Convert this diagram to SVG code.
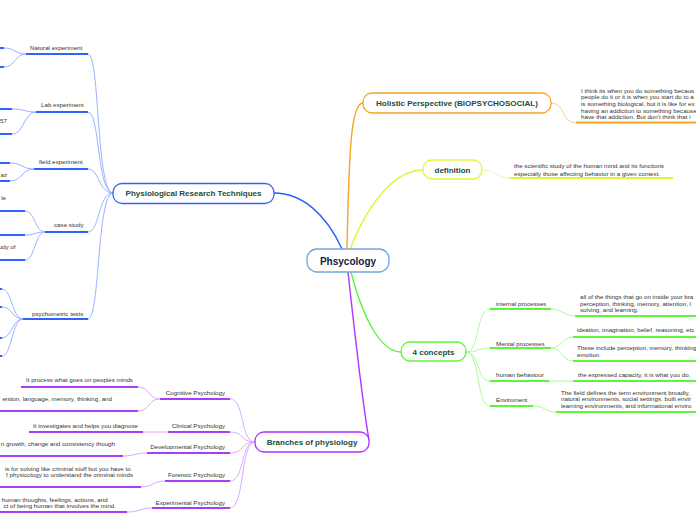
<svg xmlns="http://www.w3.org/2000/svg" width="696" height="520" viewBox="0 0 696 520">
<style>
.bg{fill:#fff}
.node{fill:#fff;stroke-width:1.3}
.lbl{font-family:"Liberation Sans",Arial,sans-serif;font-weight:bold;font-size:8px;fill:#1d4a3c}
.t{font-family:"Liberation Sans",Arial,sans-serif;font-size:6.2px;fill:#333}
.e{text-anchor:end}
.c{fill:none;stroke-width:0.9}
.u{fill:none;stroke-width:2}
.m{fill:none;stroke-width:1.4}
.bl .c{stroke:#8eaaff}.bl .u{stroke:#2f62ff}
.or .c{stroke:#fcc877}.or .u{stroke:#f8a31c}
.ye .c{stroke:#ecf890}.ye .u{stroke:#e3f53b}
.gr .c{stroke:#a4f98f}.gr .u{stroke:#5cf53a}
.pu .c{stroke:#d8a0ff}.pu .u{stroke:#a93cf7}
</style>
<rect class="bg" width="696" height="520"/>
<g id="connectors">
  <path class="m" d="M342,249 C326,214 302,193 274,193" stroke="#2a5cff"/>
  <path class="m" d="M347,249 C349,150 351,103 363,103" stroke="#f7a325"/>
  <path class="m" d="M350,249 C372,195 398,170 423,170" stroke="#dcf53c"/>
  <path class="m" d="M351,272 C364,322 382,352 401,352" stroke="#5df53c"/>
  <path class="m" d="M348,272 C356,345 362,400 369,440" stroke="#aa33ff"/>
  <g class="bl">
    <path class="c" d="M113,193 C96,193 100,54 88,54"/>
    <path class="c" d="M113,193 C97,193 100,112 88,112"/>
    <path class="c" d="M113,193 C98,193 100,169 88,169"/>
    <path class="c" d="M113,193 C98,193 100,232 88,232"/>
    <path class="c" d="M113,193 C97,193 100,319 88,319"/>
    <path class="c" d="M26,54 C15,54 15,48 4,48"/>
    <path class="c" d="M26,54 C15,54 15,67 4,67"/>
    <path class="c" d="M36,112 C24,112 24,109 12,109"/>
    <path class="c" d="M36,112 C24,112 24,134 12,134"/>
    <path class="c" d="M34,169 C22,169 22,163 10,163"/>
    <path class="c" d="M34,169 C22,169 22,181 10,181"/>
    <path class="c" d="M45,232 C35,232 35,211 25,211"/>
    <path class="c" d="M45,232 C35,232 35,235 25,235"/>
    <path class="c" d="M45,232 C35,232 35,260 25,260"/>
    <path class="c" d="M23,319 C12,319 12,289 2,289"/>
    <path class="c" d="M23,319 C12,319 12,307 2,307"/>
    <path class="c" d="M23,319 C12,319 12,338 2,338"/>
    <path class="c" d="M23,319 C12,319 12,356 2,356"/>
  </g>
  <g class="or"><path class="c" d="M551,103 C565,103 562,123 576,123"/></g>
  <g class="ye"><path class="c" d="M482,170 C496,170 496,178 510,178"/></g>
  <g class="gr">
    <path class="c" d="M466,352 C480,352 476,309 490,309"/>
    <path class="c" d="M466,352 C480,352 476,348 490,348"/>
    <path class="c" d="M466,352 C480,352 476,381 490,381"/>
    <path class="c" d="M466,352 C480,352 476,406 490,406"/>
    <path class="c" d="M551,309 C563,309 563,316 575,316"/>
    <path class="c" d="M551,348 C562,348 562,337 573,337"/>
    <path class="c" d="M551,348 C562,348 562,361 573,361"/>
    <path class="c" d="M549,381 L573,381"/>
    <path class="c" d="M533,406 C545,406 545,412 556,412"/>
  </g>
  <g class="pu">
    <path class="c" d="M255,442 C240,442 245,399 230,399"/>
    <path class="c" d="M255,442 C240,442 245,432 230,432"/>
    <path class="c" d="M255,442 C240,442 245,453 230,453"/>
    <path class="c" d="M255,442 C240,442 245,481 230,481"/>
    <path class="c" d="M255,442 C240,442 245,508 230,508"/>
    <path class="c" d="M160,399 C148,399 150,387 138,387"/>
    <path class="c" d="M160,399 C148,399 150,411 138,411"/>
    <path class="c" d="M143,432 L168,432"/>
    <path class="c" d="M147,453 C135,453 135,456 123,456"/>
    <path class="c" d="M165,481 C153,481 153,487 141,487"/>
    <path class="c" d="M152,508 C140,508 140,512 127,512"/>
  </g>
</g>
<g id="n-root">
  <rect class="node" x="307" y="249" width="82" height="23" rx="10" stroke="#6fa8e0"/>
  <text x="348" y="264.5" text-anchor="middle" font-family="Liberation Sans,Arial,sans-serif" font-weight="bold" font-size="10" fill="#0d2244">Phsycology</text>
</g>
<g id="n-physio" class="bl">
  <rect class="node" x="113" y="183.5" width="161" height="20" rx="9" stroke="#2f62ff"/>
  <text class="lbl" x="193.5" y="196.3" text-anchor="middle">Physiological Research Techniques</text>
  <g id="n-natural"><path class="u" d="M26,54 H88"/><text class="t" x="30" y="50.3">Natural experiment</text>
    <path class="u" d="M0,48 H4 M0,67 H4"/></g>
  <g id="n-lab"><path class="u" d="M36,112 H88"/><text class="t" x="41" y="107.2">Lab experiment</text>
    <path class="u" d="M0,109 H12 M0,134 H12"/><text class="t e" x="7" y="123">57</text></g>
  <g id="n-field"><path class="u" d="M34,169 H88"/><text class="t" x="39" y="164">field experiment</text>
    <path class="u" d="M0,163 H10 M0,181 H10"/><text class="t e" x="7" y="177">az</text></g>
  <g id="n-case"><path class="u" d="M45,232 H88"/><text class="t" x="54" y="227.2">case study</text>
    <path class="u" d="M0,211 H25 M0,235 H25 M0,260 H25"/><text class="t e" x="6" y="200">le</text><text class="t e" x="15.5" y="249">udy of</text></g>
  <g id="n-psycho"><path class="u" d="M23,319 H88"/><text class="t" x="32" y="315.5">psychometric tests</text>
    <path class="u" d="M0,289 H2 M0,307 H2 M0,338 H2 M0,356 H2"/></g>
</g>
<g id="n-holistic" class="or">
  <rect class="node" x="363" y="93" width="188" height="20" rx="9" stroke="#f8a31c"/>
  <text class="lbl" x="457" y="105.8" text-anchor="middle">Holistic Perspective (BIOPSYCHOSOCIAL)</text>
  <path class="u" d="M576,122.5 H696"/>
  <text class="t" x="581" y="92.8">I think its when you do something becaus</text>
  <text class="t" x="581" y="99.4">people do it or it is when you start do to a</text>
  <text class="t" x="581" y="106">is something biological, but it is like for ex</text>
  <text class="t" x="581" y="112.7">having an addiction to something because</text>
  <text class="t" x="581" y="119.3">have that addiction. But don't think that i</text>
</g>
<g id="n-definition" class="ye">
  <rect class="node" x="423" y="160" width="59" height="19" rx="9" stroke="#e3f53b"/>
  <text class="lbl" x="452.5" y="172.7" text-anchor="middle">definition</text>
  <path class="u" d="M510,178 H673"/>
  <text class="t" x="514" y="168">the scientific study of the human mind and its functions</text>
  <text class="t" x="514" y="175.5">especially those affecting behavior in a given context.</text>
</g>
<g id="n-concepts" class="gr">
  <rect class="node" x="401" y="342" width="65" height="19" rx="9" stroke="#5cf53a"/>
  <text class="lbl" x="433.5" y="354.8" text-anchor="middle">4 concepts</text>
  <g id="n-internal"><path class="u" d="M490,309 H551"/><text class="t" x="496" y="305.5">internal processes</text>
    <path class="u" d="M575,316 H696"/>
    <text class="t" x="580" y="299">all of the things that go on inside your bra</text>
    <text class="t" x="580" y="305.5">perception, thinking, memory, attention, l</text>
    <text class="t" x="580" y="312">solving, and learning.</text></g>
  <g id="n-mental"><path class="u" d="M490,348 H551"/><text class="t" x="496" y="345.5">Mental processes</text>
    <path class="u" d="M573,337 H696 M573,361 H696"/>
    <text class="t" x="577" y="332">ideation, imagination, belief, reasoning, etc</text>
    <text class="t" x="577" y="350">These include perception, memory, thinking</text>
    <text class="t" x="577" y="356.5">emotion.</text></g>
  <g id="n-behaviour"><path class="u" d="M490,381 H549"/><text class="t" x="496" y="377">human behaviour</text>
    <path class="u" d="M573,381 H696"/>
    <text class="t" x="578" y="377">the expressed capacity, it is what you do.</text></g>
  <g id="n-env"><path class="u" d="M490,406 H533"/><text class="t" x="496" y="402">Enviroment</text>
    <path class="u" d="M556,412 H696"/>
    <text class="t" x="561" y="394.5">The field defines the term environment broadly, </text>
    <text class="t" x="561" y="401">natural environments, social settings, built envir</text>
    <text class="t" x="561" y="407.7">learning environments, and informational enviro</text></g>
</g>
<g id="n-branches" class="pu">
  <rect class="node" x="255" y="432" width="114" height="20" rx="9" stroke="#aa33ff"/>
  <text class="lbl" x="312" y="444.8" text-anchor="middle">Branches of physiology</text>
  <g id="n-cognitive"><path class="u" d="M160,399 H230"/><text class="t e" x="225" y="394.5">Cognitive Psychology</text>
    <path class="u" d="M21,387 H138 M0,411 H138"/>
    <text class="t" x="26" y="382">It process what goes on peoples minds</text>
    <text class="t e" x="112" y="400.5">ention, language, memory, thinking, and</text></g>
  <g id="n-clinical"><path class="u" d="M168,432 H230"/><text class="t e" x="225" y="428">Clinical Psychology</text>
    <path class="u" d="M29,432 H143"/>
    <text class="t" x="33" y="428">It investigates and helps you diagnose</text></g>
  <g id="n-developmental"><path class="u" d="M147,453 H230"/><text class="t e" x="225" y="449">Developmental Psychology</text>
    <path class="u" d="M0,456 H123"/>
    <text class="t e" x="115" y="445.5">n growth, change and consistency though</text></g>
  <g id="n-forensic"><path class="u" d="M165,481 H230"/><text class="t e" x="225" y="476.5">Forensic Psychology</text>
    <path class="u" d="M0,487 H141"/>
    <text class="t e" x="130.7" y="471">is for solving like criminal stuff but you have to</text>
    <text class="t e" x="133" y="476.8">f physicology to understand the criminal minds</text></g>
  <g id="n-experimental"><path class="u" d="M152,508 H230"/><text class="t e" x="225" y="504.5">Experimental Psychology</text>
    <path class="u" d="M0,512 H127"/>
    <text class="t e" x="107.7" y="502">human thoughts, feelings, actions, and</text>
    <text class="t e" x="116" y="508">ct of being human that involves the mind.</text></g>
</g>
</svg>
